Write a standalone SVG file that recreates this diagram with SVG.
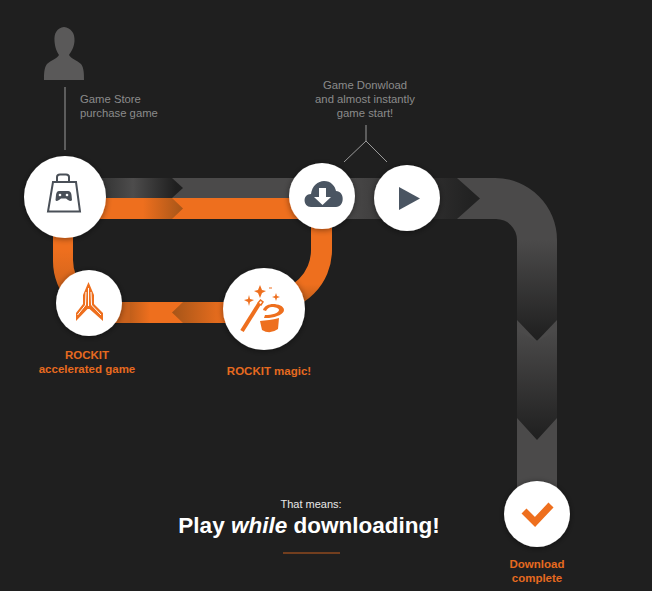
<svg xmlns="http://www.w3.org/2000/svg" width="652" height="591" viewBox="0 0 652 591">
<style>
text{font-family:"Liberation Sans",Arial,sans-serif}
.g{font-size:11.3px;fill:#8b8b8b}
.o{font-size:11.5px;font-weight:700;fill:#e66a1f;text-anchor:middle}
.c{fill:#fff;filter:url(#s)}
.l{stroke:#9a9a9a;stroke-width:1;fill:none}
.ic{fill:#4a5562}
.or{fill:#ee6f1e}
</style>
<defs>
<filter id="s" x="-30%" y="-30%" width="160%" height="160%"><feDropShadow dx="0" dy="1" stdDeviation="3" flood-color="#000" flood-opacity=".45"/></filter>
<linearGradient id="g1" gradientUnits="userSpaceOnUse" x1="110" y1="0" x2="176" y2="0"><stop offset="0" stop-color="#3a3a3a"/><stop offset=".35" stop-color="#4d4c4c"/><stop offset="1" stop-color="#1f1f1f"/></linearGradient>
<linearGradient id="g2" gradientUnits="userSpaceOnUse" x1="110" y1="0" x2="183" y2="0"><stop offset="0" stop-color="#ee6f1e"/><stop offset=".45" stop-color="#ee6f1e"/><stop offset="1" stop-color="#a65518"/></linearGradient>
<linearGradient id="g3" gradientUnits="userSpaceOnUse" x1="225" y1="0" x2="172" y2="0"><stop offset="0" stop-color="#ee6f1e"/><stop offset="1" stop-color="#a65518"/></linearGradient>
<linearGradient id="g4" gradientUnits="userSpaceOnUse" x1="150" y1="0" x2="118" y2="0"><stop offset="0" stop-color="#ee6f1e"/><stop offset="1" stop-color="#a65518"/></linearGradient>
<linearGradient id="g5" gradientUnits="userSpaceOnUse" x1="345" y1="0" x2="470" y2="0"><stop offset="0" stop-color="#4b4a4a"/><stop offset=".3" stop-color="#3d3c3c"/><stop offset="1" stop-color="#222"/></linearGradient>
<linearGradient id="g6" gradientUnits="userSpaceOnUse" x1="0" y1="240" x2="0" y2="335"><stop offset="0" stop-color="#4b4a4a"/><stop offset="1" stop-color="#212121"/></linearGradient>
<linearGradient id="g7" gradientUnits="userSpaceOnUse" x1="0" y1="330" x2="0" y2="435"><stop offset="0" stop-color="#4b4a4a"/><stop offset="1" stop-color="#212121"/></linearGradient>
<linearGradient id="g8" gradientUnits="userSpaceOnUse" x1="0" y1="250" x2="0" y2="312"><stop offset="0" stop-color="#ee6f1e"/><stop offset=".55" stop-color="#ee6f1e"/><stop offset="1" stop-color="#a65518"/></linearGradient>
<linearGradient id="g9" gradientUnits="userSpaceOnUse" x1="0" y1="250" x2="0" y2="300"><stop offset="0" stop-color="#ee6f1e"/><stop offset="1" stop-color="#c9611c"/></linearGradient>
</defs>
<rect width="652" height="591" fill="#1f1f1f"/>
<g id="connectors">
<path d="M100 178H495A62 62 0 0 1 557 240V495H517V240A21 21 0 0 0 496 219H100Z" fill="#4b4a4a"/>
<path d="M100 178H172L183 188 172 198H100Z" fill="url(#g1)"/>
<path d="M345 178H457L480 198.500 457 219H345Z" fill="url(#g5)"/>
<path d="M517 240H557V320L537 341 517 320Z" fill="url(#g6)"/>
<path d="M517 330 537 341 557 330V418L537 440 517 418Z" fill="url(#g7)"/>
<path d="M90 198H310V219H90Z" class="or"/>
<path d="M90 198H172L183 208.500 172 219H90Z" fill="url(#g2)"/>
<path d="M311 215H332V250A62 62 0 0 1 270 312H250V291H270A41 41 0 0 0 311 250Z" fill="url(#g8)"/>
<path d="M190 302V323H110V302Z" fill="url(#g4)"/>
<path d="M235 302H183L172 312.500 183 323H235Z" fill="url(#g3)"/>
<path d="M53 220H73V260A42 42 0 0 0 115 302H130V323H115A62 62 0 0 1 53 260Z" fill="url(#g9)"/>
<path class="l" d="M65 87V150M366 125V141M344 162 366 141 387 162"/>
<path d="M283 553H340" stroke="#c65f1f" stroke-width="1" fill="none"/>
</g>
<g id="user">
<path d="M64 27C71 28 75 33 74.500 41 74 48 71 52 69 55 71 59 77 60 81 64 84 68 84 74 84 80H44C44 74 44 68 47 64 51 60 57 59 59 55 57 52 55 48 54.500 41 54 33 57 28 64 27Z" fill="#5a5959"/>
<text class="g" x="80" y="103">Game Store</text>
<text class="g" x="80" y="117">purchase game</text>
</g>
<g id="store">
<circle class="c" cx="65" cy="197" r="41"/>
<path d="M53 182H76L80 211.500H48Z" fill="none" stroke="#4a5058" stroke-width="2"/>
<path d="M57 182V177Q57 174.500 60 174.500H66Q69 174.500 69 177V182" fill="none" stroke="#4a5058" stroke-width="2"/>
<path d="M59 191H68Q71 191 71.500 195L72 200Q71 202 68 200L66 198.500H61L59 200Q56 202 55.500 200L56 195Q56.500 191 59 191Z" fill="#4a5058"/>
<circle cx="60" cy="195" r="1.300" fill="#fff"/><circle cx="67" cy="195" r="1.300" fill="#fff"/>
</g>
<g id="download">
<circle class="c" cx="322" cy="196" r="33"/>
<path class="ic" d="M311 207C303 207 302 194 311 194 312 186 318 181 324 181 331 181 335 186 336 191 345 191 345 207 336 207Z"/>
<path d="M319 188H326V197H331L322.500 205 314 197H319Z" fill="#fff"/>
</g>
<g id="play">
<circle class="c" cx="407" cy="198" r="33"/>
<path class="ic" d="M399 187 420 198.500 399 210Z"/>
</g>
<text class="g" x="365" y="89" text-anchor="middle">Game Donwload</text>
<text class="g" x="365" y="103" text-anchor="middle">and almost instantly</text>
<text class="g" x="365" y="117" text-anchor="middle">game start!</text>
<g id="rockit">
<circle class="c" cx="89" cy="303" r="33"/>
<path class="or" d="M88.500 282 94 295V304L103 313V321L89.500 309H87.500L76 321V313L83 304V295Z"/>
<path d="M86 292 85.500 305 77.500 315M91 292 91.500 305 101 315M88.500 288V306" fill="none" stroke="#fff" stroke-width="1"/>
<text class="o" x="87" y="359">ROCKIT</text>
<text class="o" x="87" y="373">accelerated game</text>
</g>
<g id="magic">
<circle class="c" cx="264" cy="309" r="41"/>
<path d="M242 331 259 304" stroke="#ee6f1e" stroke-width="4" fill="none"/>
<path d="M258 303 260.500 300 263 302 261 305Z" fill="#fff" stroke="#ee6f1e" stroke-width="1.500"/>
<path class="or" d="M260 285 262 290 266 291 262 293 260 298 258 293 254 291 258 290ZM249 295 250 299 254 300 250 302 249 306 248 302 244 300 248 299ZM276 293 277 296 280 297 277 298 276 301 275 298 272 297 275 296Z"/>
<path class="or" d="M269 287.500h3v1h-3Z"/>
<path class="or" d="M263 310C264 306 269 304 273 304 278 304 284 306 284 310 284 314 277 317 269 318L264 318 265 315C272 315 279 313 279 310 279 308 275 307 272 307 269 307 267 309 266 311Z"/>
<path class="or" d="M260 321C266 320 272 320 279 318L278 329Q270 335 262 330Z"/>
<text class="o" x="269" y="375">ROCKIT magic!</text>
</g>
<g id="complete">
<circle class="c" cx="537" cy="514" r="33"/>
<path d="M524 511 535 522 551 505" fill="none" stroke="#ee6f1e" stroke-width="7"/>
<text class="o" x="537" y="568">Download</text>
<text class="o" x="537" y="582">complete</text>
</g>
<g id="caption">
<text x="311" y="508" text-anchor="middle" font-size="11" fill="#e8e8e8">That means:</text>
<text x="309" y="533" text-anchor="middle" font-size="22.500" font-weight="700" fill="#fff">Play <tspan font-style="italic">while</tspan> downloading!</text>
</g>
</svg>
